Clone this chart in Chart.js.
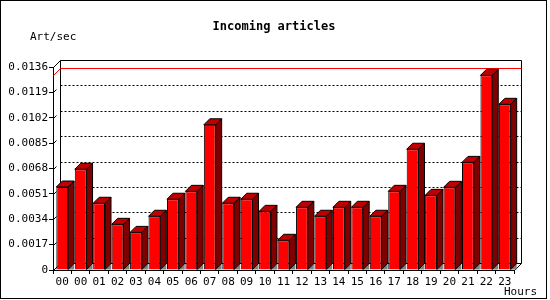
<!DOCTYPE html>
<html>
<head>
<meta charset="utf-8">
<script src="https://cdn.jsdelivr.net/npm/chart.js@4/dist/chart.umd.min.js"></script>
<style>
  html, body { margin: 0; padding: 0; background: #fff; }
  #wrap { width: 550px; height: 300px; }
</style>
</head>
<body>
<div id="wrap"><canvas id="chart" width="550" height="300"></canvas></div>
<script>
// hours of the day (first slot repeats 00)
const hours = ['00', '00', '01', '02', '03', '04', '05', '06', '07', '08', '09', '10', '11',
  '12', '13', '14', '15', '16', '17', '18', '19', '20', '21', '22', '23'];
// incoming articles per second
const artPerSec = [0.00556, 0.00675, 0.00447, 0.00306, 0.00252, 0.00360, 0.00474, 0.00527,
  0.00973, 0.00447, 0.00474, 0.00393, 0.00199, 0.00420, 0.00360, 0.00420, 0.00420, 0.00360,
  0.00527, 0.00809, 0.00500, 0.00554, 0.00721, 0.01304, 0.01110];
const yTicks = [0, 0.0017, 0.0034, 0.0051, 0.0068, 0.0085, 0.0102, 0.0119, 0.0136];

const FONT = "'DejaVu Sans Mono', 'Liberation Mono', monospace";
const WALL = 7;   // offset of the back wall
const DEPTH = 6;  // depth of each bar

function seg(ctx, x1, y1, x2, y2) {
  ctx.beginPath();
  ctx.moveTo(x1, y1);
  ctx.lineTo(x2, y2);
  ctx.stroke();
}

const threeD = {
  id: 'threeD',
  beforeDatasetsDraw(chart) {
    const { ctx, chartArea: a, scales: { y } } = chart;
    const L = a.left + WALL + 0.5, R = a.right + WALL + 0.5;
    const T = a.top - WALL + 0.5, B = a.bottom - WALL + 0.5;
    ctx.save();
    ctx.strokeStyle = '#000';
    ctx.lineWidth = 1;

    // dotted grid on the back wall
    ctx.setLineDash([2, 2]);
    yTicks.slice(1, -1).forEach(v => {
      const py = Math.round(y.getPixelForValue(v)) - WALL + 0.5;
      seg(ctx, L, py, R, py);
    });
    ctx.setLineDash([]);
    // little stubs at the front axis
    yTicks.slice(1, -1).forEach(v => {
      const py = Math.round(y.getPixelForValue(v));
      seg(ctx, a.left + 1, py, a.left + 3.5, py - 2.5);
    });

    // back wall frame and floor
    seg(ctx, L, T, R, T);
    seg(ctx, L, T, L, B);
    seg(ctx, R, T, R, B);
    seg(ctx, L, B, R, B);
    seg(ctx, a.left + 0.5, a.top + 0.5, L, T);
    seg(ctx, a.left + 0.5, a.bottom + 0.5, L, B);
    seg(ctx, a.right + 0.5, a.bottom + 0.5, R, B);

    // red line at the maximum
    const maxV = Math.max(...artPerSec);
    const my = Math.round(y.getPixelForValue(maxV)) + 0.5;
    ctx.strokeStyle = '#ff0000';
    seg(ctx, a.left + 0.5, my, L, my - WALL);
    seg(ctx, L, my - WALL, R, my - WALL);
    ctx.restore();
  },
  afterDatasetsDraw(chart) {
    const { ctx } = chart;
    const meta = chart.getDatasetMeta(0);
    ctx.save();
    ctx.lineWidth = 1;
    ctx.strokeStyle = '#000';
    ctx.lineJoin = 'miter';
    meta.data.forEach(bar => {
      const x1 = bar.x - bar.width / 2;
      const x2 = bar.x + bar.width / 2;
      const top = bar.y, bot = bar.base;
      // floor shadow
      ctx.fillStyle = '#808080';
      ctx.beginPath();
      ctx.moveTo(x2, bot);
      ctx.lineTo(x2 + DEPTH, bot - DEPTH);
      ctx.lineTo(x2 + DEPTH, bot);
      ctx.closePath();
      ctx.fill();
      // side face
      ctx.fillStyle = '#800000';
      ctx.beginPath();
      ctx.moveTo(x2, top);
      ctx.lineTo(x2 + DEPTH, top - DEPTH);
      ctx.lineTo(x2 + DEPTH, bot - DEPTH);
      ctx.lineTo(x2, bot);
      ctx.closePath();
      ctx.fill();
      ctx.stroke();
      // top face
      ctx.fillStyle = '#c00000';
      ctx.beginPath();
      ctx.moveTo(x1, top);
      ctx.lineTo(x1 + DEPTH, top - DEPTH);
      ctx.lineTo(x2 + DEPTH, top - DEPTH);
      ctx.lineTo(x2, top);
      ctx.closePath();
      ctx.fill();
      ctx.stroke();
    });
    ctx.restore();
  },
  afterDraw(chart) {
    const { ctx } = chart;
    ctx.save();
    ctx.fillStyle = '#000';
    ctx.textBaseline = 'middle';
    ctx.font = 'bold 12px ' + FONT;
    ctx.textAlign = 'center';
    ctx.fillText('Incoming articles', 274, 27);
    ctx.font = '11px ' + FONT;
    ctx.textAlign = 'left';
    ctx.fillText('Art/sec', 30, 37);
    ctx.fillText('Hours', 504, 292);
    // outer frame
    ctx.strokeStyle = '#000';
    ctx.lineWidth = 1;
    ctx.strokeRect(0.5, 0.5, 546, 298);
    ctx.restore();
  }
};

new Chart(document.getElementById('chart'), {
  type: 'bar',
  data: {
    labels: hours,
    datasets: [{
      data: artPerSec,
      backgroundColor: '#ff0000',
      borderColor: '#000000',
      borderWidth: 1,
      barPercentage: 0.64,
      categoryPercentage: 1.0
    }]
  },
  options: {
    responsive: false,
    animation: false,
    devicePixelRatio: 1,
    layout: { padding: { top: 67, right: 36, left: 0, bottom: 0 } },
    plugins: {
      legend: { display: false },
      tooltip: { enabled: false }
    },
    scales: {
      x: {
        afterFit: s => { s.height = 30; },
        grid: { offset: true, drawOnChartArea: false, tickLength: 4, color: '#000' },
        border: { display: true, color: '#000' },
        ticks: {
          color: '#000', padding: 2, maxRotation: 0, autoSkip: false,
          font: { family: FONT, size: 11 }
        }
      },
      y: {
        min: 0,
        max: 0.0136,
        afterFit: s => { s.width = 53; },
        afterBuildTicks: s => { s.ticks = yTicks.map(v => ({ value: v })); },
        grid: { drawOnChartArea: false, tickLength: 4, color: '#000' },
        border: { display: true, color: '#000' },
        ticks: {
          color: '#000', padding: 1,
          font: { family: FONT, size: 11 },
          callback: v => v === 0 ? '0' : v.toFixed(4)
        }
      }
    }
  },
  plugins: [threeD]
});
</script>
</body>
</html>
